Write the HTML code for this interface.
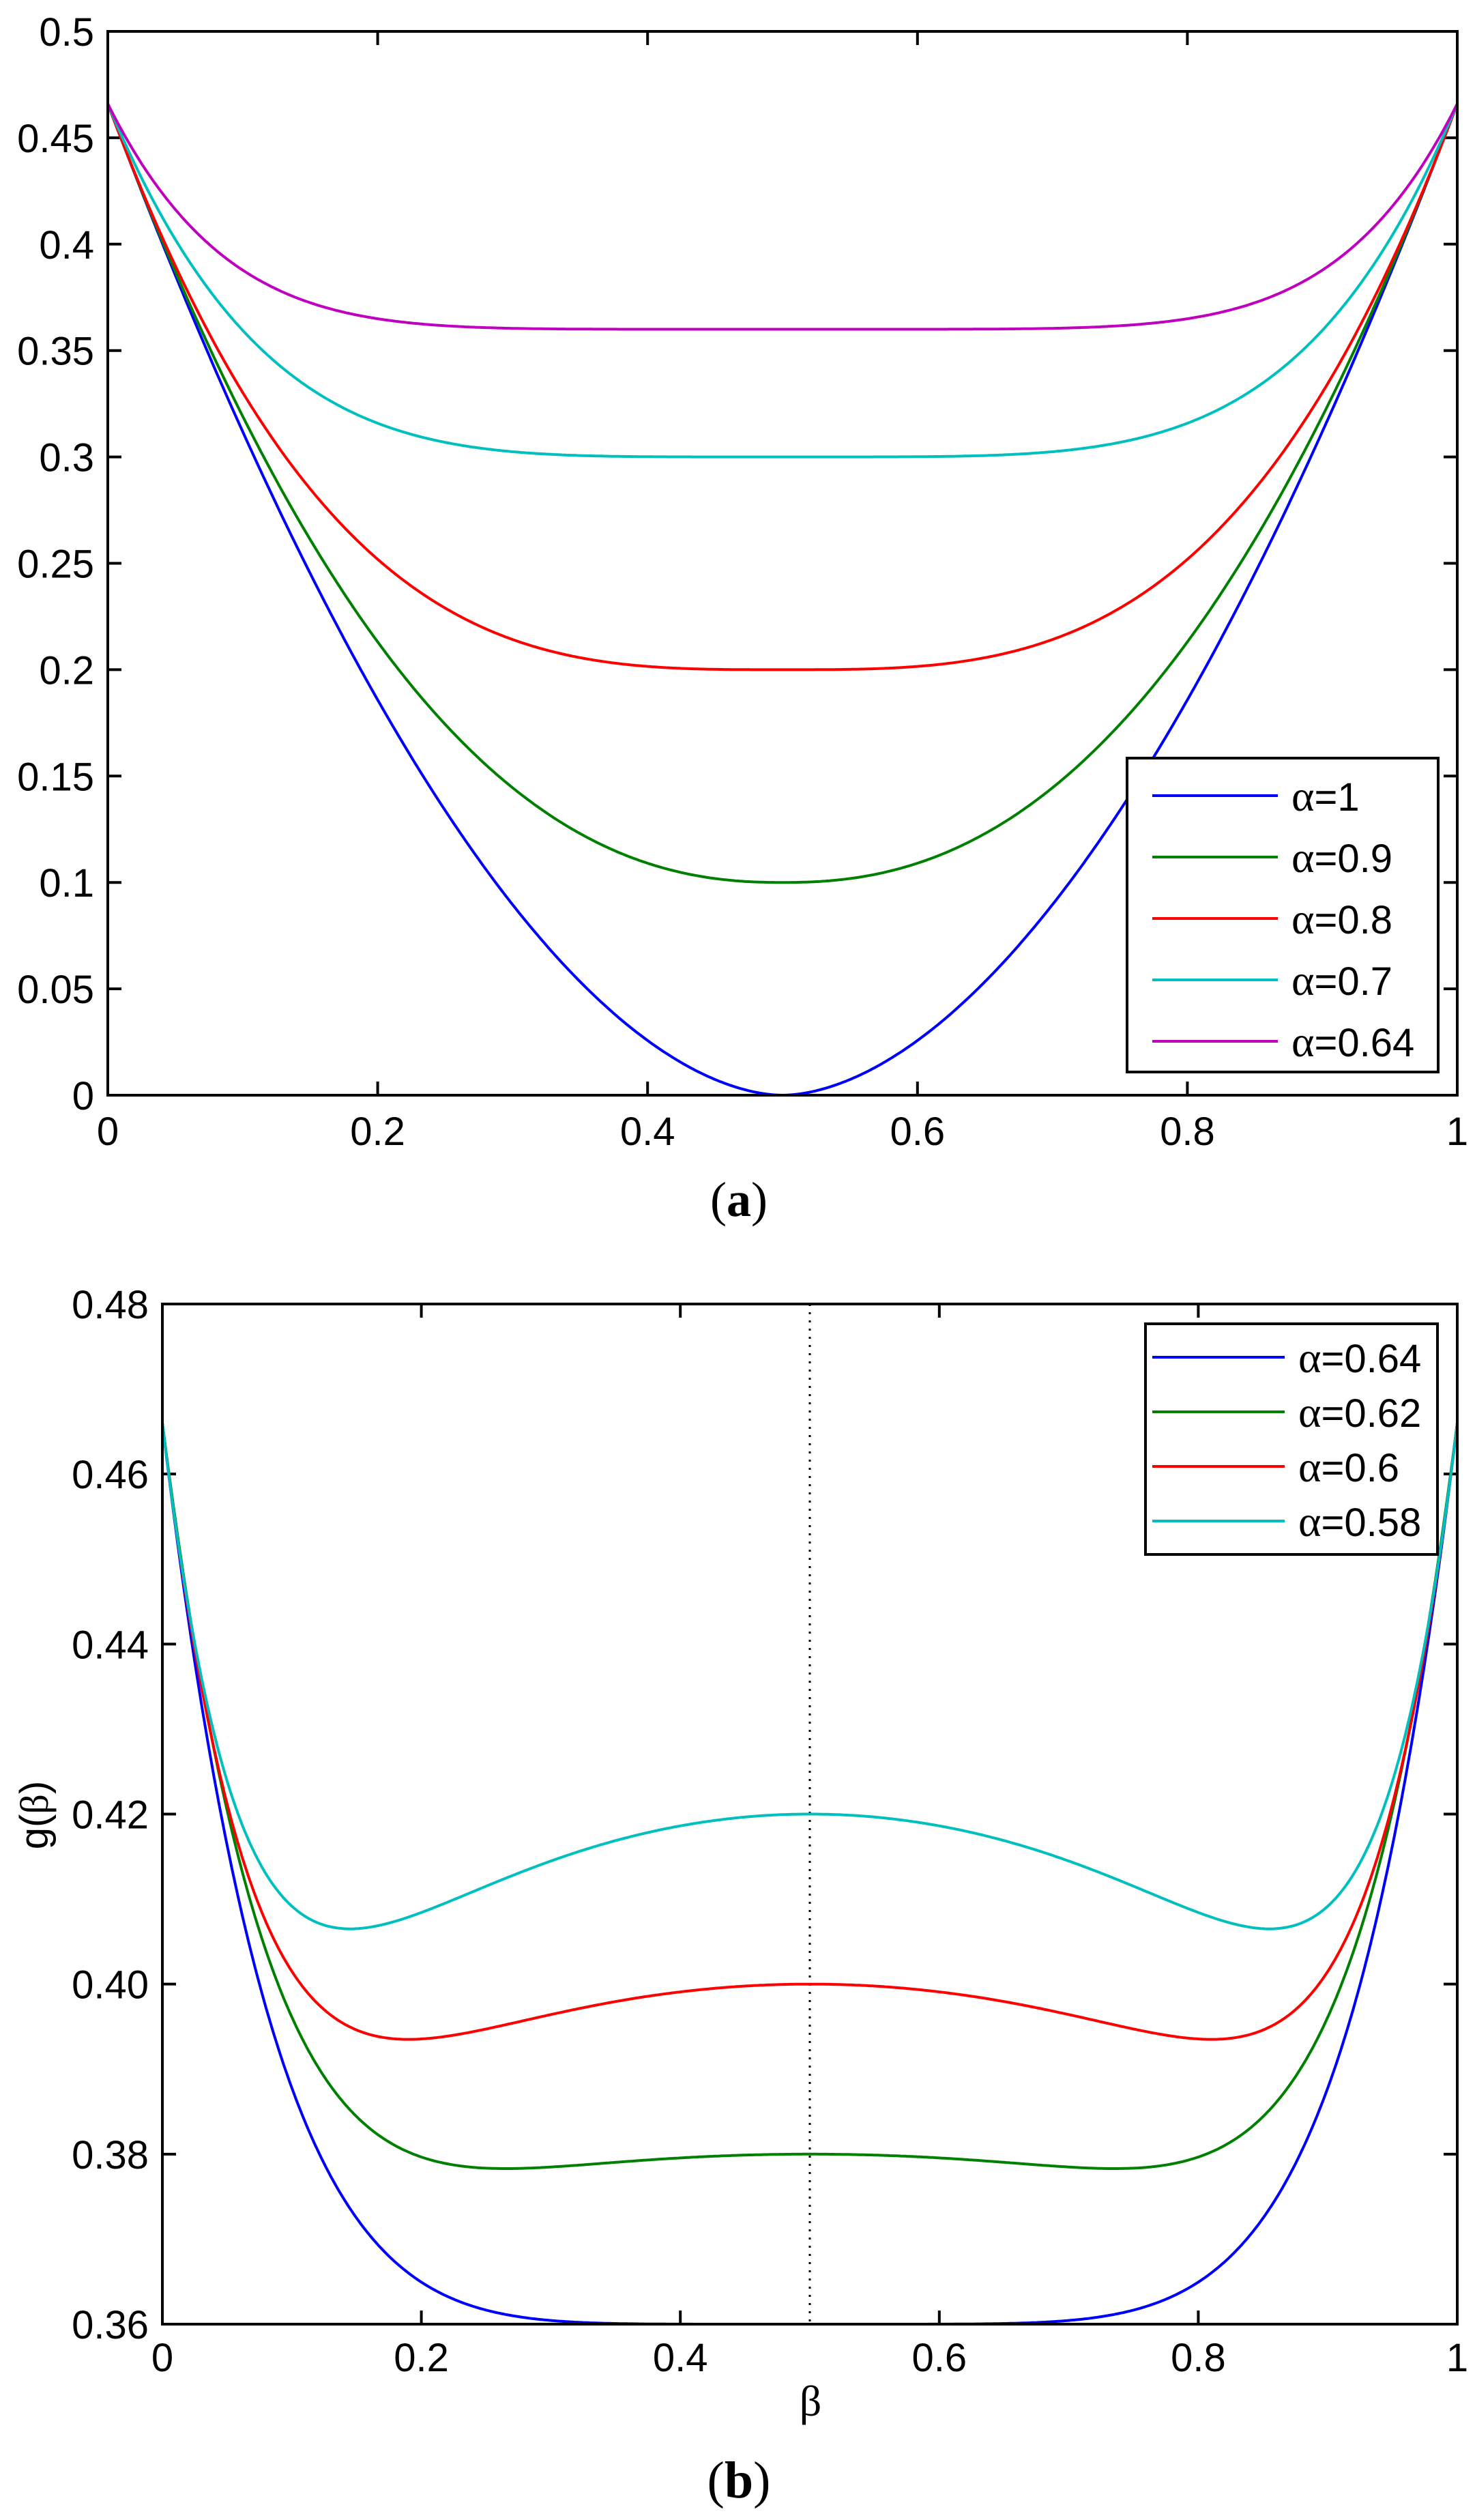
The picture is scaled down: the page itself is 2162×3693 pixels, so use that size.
<!DOCTYPE html>
<html><head><meta charset="utf-8"><style>
html,body{margin:0;padding:0;background:#fff;}
svg{display:block;}
text{font-family:"Liberation Sans",sans-serif;font-size:58px;fill:#000;}
.s{font-family:"Liberation Serif",serif;}
</style></head><body>
<svg id="c" width="2162" height="3693" viewBox="0 0 2162 3693" xmlns="http://www.w3.org/2000/svg">
<g id="g"></g>
<text class="s" x="1083" y="1782" text-anchor="middle" style="font-size:72px">(<tspan font-weight="bold">a</tspan>)</text>
<text class="s" x="1083" y="3660" text-anchor="middle" style="font-size:76px">(<tspan font-weight="bold">b</tspan>)</text>
<text class="s" x="1188" y="3540" text-anchor="middle" style="font-size:64px">β</text>
<text x="0" y="0" transform="translate(70,2660) rotate(-90)" text-anchor="middle" style="font-size:58px">g(<tspan class="s">β</tspan>)</text>
</svg>
<script>
(function(){
var NS="http://www.w3.org/2000/svg",G=document.getElementById("g");
function el(t,a,txt){var e=document.createElementNS(NS,t);for(var k in a)e.setAttribute(k,a[k]);if(txt!==undefined)e.textContent=txt;G.appendChild(e);return e;}
function lab(x,y,val){var t=document.createElementNS(NS,"text");t.setAttribute("x",x);t.setAttribute("y",y);
  var s=document.createElementNS(NS,"tspan");s.setAttribute("style","font-family:'Liberation Serif',serif;font-size:64px");s.textContent="α";t.appendChild(s);
  t.appendChild(document.createTextNode("="+val));G.appendChild(t);}
var cols={b:"#0000ff",g:"#008000",r:"#ff0000",c:"#00bfbf",m:"#bf00bf"};
function axes(L,R,T,B,y0,y1,ys,ylab,xlabY,ylabR){
  var X=function(v){return L+(R-L)*v;},Y=function(v){return B-(B-T)*(v-y0)/(y1-y0);};
  var n=Math.round((y1-y0)/ys);
  for(var i=0;i<=n;i++){var v=y0+i*ys,y=Y(v);
    el("line",{x1:L,y1:y,x2:L+20,y2:y,stroke:"#000","stroke-width":4});
    el("line",{x1:R,y1:y,x2:R-20,y2:y,stroke:"#000","stroke-width":4});
    el("text",{x:ylabR,y:y+21,"text-anchor":"end"},ylab(v));}
  for(var j=0;j<=5;j++){var v2=j*0.2,x=X(v2);
    el("line",{x1:x,y1:B,x2:x,y2:B-20,stroke:"#000","stroke-width":4});
    el("line",{x1:x,y1:T,x2:x,y2:T+20,stroke:"#000","stroke-width":4});
    el("text",{x:x,y:xlabY,"text-anchor":"middle"},j==0?"0":j==5?"1":v2.toFixed(1));}
  return {X:X,Y:Y};
}
function curve(m,f,col){var d="";for(var i=0;i<=600;i++){var bb=i/600;d+=(i?"L":"M")+m.X(bb).toFixed(1)+" "+m.Y(f(bb)).toFixed(1);}
  el("path",{d:d,fill:"none",stroke:col,"stroke-width":4,"stroke-linejoin":"round"});}
var E=0.466;
var mt=axes(158,2136,46,1605,0,0.5,0.05,function(v){return (Math.round(v*100)/100).toString();},1678,138);
var topC=[[1,0.9,"b"],[0.9,1.15,"g"],[0.8,1.6,"r"],[0.7,2.3,"c"],[0.64,3.0,"m"]];
topC.forEach(function(t){var a=t[0],p=t[1];curve(mt,function(x){var u=Math.pow(1-2*x,2);return (1-a)+(E-1+a)*Math.pow(u,p);},cols[t[2]]);});
el("rect",{x:158,y:46,width:1978,height:1559,fill:"none",stroke:"#000","stroke-width":4});
el("rect",{x:1652,y:1111,width:456,height:460,fill:"#fff",stroke:"#000","stroke-width":4});
var tl=["1","0.9","0.8","0.7","0.64"],tc=["b","g","r","c","m"];
for(var i=0;i<5;i++){var y=1166+90*i;el("line",{x1:1689,y1:y,x2:1873,y2:y,stroke:cols[tc[i]],"stroke-width":4});lab(1893,y+22,tl[i]);}
var mb=axes(238,2136,1911,3406,0.36,0.48,0.02,function(v){return v.toFixed(2);},3475,218);
el("line",{x1:1187,y1:1911,x2:1187,y2:3406,stroke:"#000","stroke-width":3,"stroke-dasharray":"3 9"});
function fitf(al,us,dep){var c=1-al;
  if(dep<=0){return function(x){var u=Math.pow(1-2*x,2);return c+(E-c)*Math.pow(u,3);};}
  function F(n){var a=dep/(us*(1-1/n)),q=E-c+a;return Math.pow(us,n-1)-a/(n*q);}
  var lo=1.2,hi=30,flo=F(lo);
  for(var k=0;k<80;k++){var mid=(lo+hi)/2,fm=F(mid);if((fm>0)==(flo>0)){lo=mid;flo=fm;}else hi=mid;}
  var n=(lo+hi)/2,a=dep/(us*(1-1/n)),q=E-c+a;
  return function(x){var u=Math.pow(1-2*x,2);return c-a*u+q*Math.pow(u,n);};}
var botC=[[0.64,0,0,"b"],[0.62,Math.pow(1-2*0.265,2),0.0017,"g"],[0.6,Math.pow(1-2*0.19,2),0.0065,"r"],[0.58,Math.pow(1-2*0.145,2),0.0135,"c"]];
botC.forEach(function(t){curve(mb,fitf(t[0],t[1],t[2]),cols[t[3]]);});
el("rect",{x:238,y:1911,width:1898,height:1495,fill:"none",stroke:"#000","stroke-width":4});
el("rect",{x:1679,y:1940,width:428,height:338,fill:"#fff",stroke:"#000","stroke-width":4});
var bl=["0.64","0.62","0.6","0.58"],bc=["b","g","r","c"];
for(var j=0;j<4;j++){var yy=1989+80*j;el("line",{x1:1689,y1:yy,x2:1883,y2:yy,stroke:cols[bc[j]],"stroke-width":4});lab(1903,yy+22,bl[j]);}
})();
</script>
</body></html>
